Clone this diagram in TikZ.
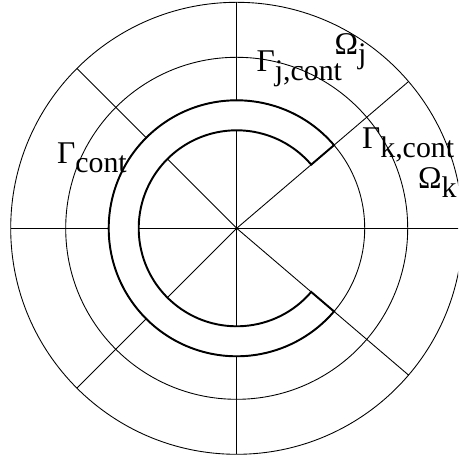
\documentclass[tikz,border=0pt]{standalone}
\usepackage{fontspec}
\setmainfont{Liberation Serif}
\newcommand{\sublbl}[3]{#1\kern#3\raisebox{-5pt}{\fontsize{17}{17}\selectfont #2}}

\begin{document}
\begin{tikzpicture}[
        x=0.02cm, y=0.02cm, % one unit = one pixel of the sketch
        % styles
        ring/.style={line width=0.5pt},
        spoke/.style={line width=0.5pt},
        contour/.style={line width=1.1pt, line join=miter},
        lbl/.style={anchor=base west, inner sep=0pt, font=\fontsize{18}{18}\selectfont} ]

    \useasboundingbox (-236.7,-230.7) rectangle (221.3,228.3);
    \clip (-236.7,-230.7) rectangle (221.3,228.3);

    \coordinate (O) at (0,0);

    % --- RINGS ---
    \foreach \r in {128,171,226}
        \draw [ring] (O) circle[radius=\r];

    % --- SPOKES ---
    % broken inside the contour band
    \foreach \a in {90,135,180,225,270} {
        \draw [spoke] (O) -- (\a:98);
        \draw [spoke] (\a:128) -- (\a:226);
    }
    % full length through the open side
    \foreach \a in {-40.5,0,40.5}
        \draw [spoke] (O) -- (\a:226);

    % --- CONTOUR BAND ---
    \draw [contour] (40.5:128) arc[start angle=40.5, end angle=319.5, radius=128]
        -- (319.5:98) arc[start angle=319.5, end angle=40.5, radius=98] -- cycle;

    % --- LABELS ---
    \node (omj)  [lbl] at (97.5,173.3) {\sublbl{Ω}{j}{0pt}};
    \node (gamj) [lbl] at (19.5,156.6) {\sublbl{Γ}{j,cont}{0pt}};
    \node (gamk) [lbl] at (125,79.3)   {\sublbl{Γ}{k,cont}{0pt}};
    \node (omk)  [lbl] at (181,40)     {\sublbl{Ω}{k}{0pt}};
    \node (gam)  [lbl] at (-180,65)    {\sublbl{Γ}{cont}{0pt}};

\end{tikzpicture}
\end{document}
